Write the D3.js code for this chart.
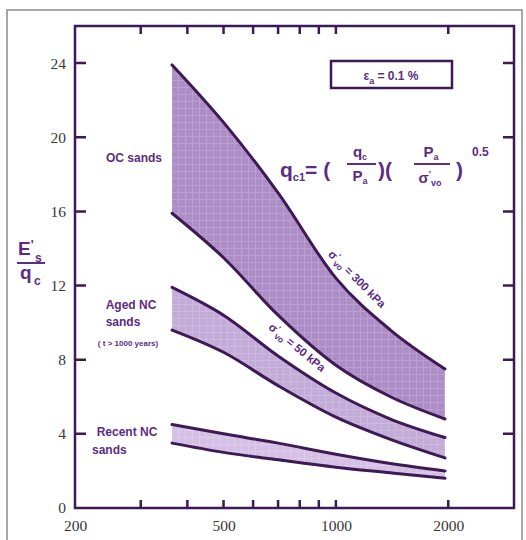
<!DOCTYPE html>
<head>
  <meta charset="utf-8">
  <title>Stiffness ratio vs normalised cone resistance</title>
  <style>
    body { margin: 0; background: #fff; }
    .tick text { font-family: "Liberation Serif", serif; font-size: 15.5px; fill: #383838; }
    .axis .domain { display: none; }
    .lbl { font-family: "Liberation Sans", Arial, sans-serif; font-weight: bold; fill: #5b2c86; }
  </style>
</head>
<body>
  <svg id="chart" width="526" height="540"></svg>

  <script src="https://d3js.org/d3.v7.min.js"></script>
  <script>

    /******* Data *******/

    // normalised cone resistance q_c1 where the curves are read
    var qc1 = [364, 500, 700, 1000, 1400, 1960];

    // E's/qc bounds for each sand group
    var ocUpper = [23.9, 20.8, 17.0, 12.4, 9.6, 7.5];      // sigma'vo = 300 kPa
    var ocLower = [15.9, 13.5, 10.4, 7.7, 6.0, 4.8];
    var agedUpper = [11.9, 10.4, 8.2, 6.2, 4.8, 3.8];
    var agedLower = [9.6, 8.4, 6.6, 4.9, 3.7, 2.7];       // sigma'vo = 50 kPa
    var recentUpper = [4.5, 4.0, 3.5, 2.9, 2.4, 2.0];
    var recentLower = [3.5, 3.0, 2.6, 2.2, 1.9, 1.6];

    var xTickLabels = [200, 500, 1000, 2000];
    var xMinorTicks = [300, 400, 500, 600, 700, 800, 900, 1000, 2000];
    var yTicks = [0, 4, 8, 12, 16, 20, 24];

    /******* Setup *******/

    var svg = d3.select("#chart");
    var plotL = 75, plotR = 514, plotT = 26, plotB = 508;
    var ink = "#3d1a55";

    var x = d3.scaleLog().domain([200, 3000]).range([plotL, plotR]);
    var y = d3.scaleLinear().domain([0, 26]).range([plotB, plotT]);

    // outer picture border
    svg.append("rect")
      .attr("x", 7).attr("y", 10)
      .attr("width", 515).attr("height", 545)
      .attr("fill", "none")
      .attr("stroke", "#8a8a8a")
      .attr("stroke-width", 1.5);

    // textured fills
    var defs = svg.append("defs");
    function makePattern(id, base, grid) {
      var p = defs.append("pattern")
        .attr("id", id)
        .attr("patternUnits", "userSpaceOnUse")
        .attr("width", 7).attr("height", 7);
      p.append("rect").attr("width", 7).attr("height", 7).attr("fill", base);
      p.append("path")
        .attr("d", "M0,3.5H7M3.5,0V7")
        .attr("stroke", grid)
        .attr("stroke-width", 1)
        .attr("opacity", 0.55);
    }
    makePattern("texOC", "#ad8dc5", "#c6aed9");
    makePattern("texAged", "#c4acd8", "#d6c4e4");
    makePattern("texRecent", "#d4c0e4", "#e2d4ec");

    function pairs(vals) {
      return vals.map(function(v, i) { return [qc1[i], v]; });
    }

    var curve = d3.curveMonotoneX;

    var band = d3.area()
      .x(function(d) { return x(d.x); })
      .y0(function(d) { return y(d.lo); })
      .y1(function(d) { return y(d.hi); })
      .curve(curve);

    var line = d3.line()
      .x(function(d) { return x(d[0]); })
      .y(function(d) { return y(d[1]); })
      .curve(curve);

    var bands = [
      {hi: ocUpper, lo: ocLower, fill: "url(#texOC)"},
      {hi: agedUpper, lo: agedLower, fill: "url(#texAged)"},
      {hi: recentUpper, lo: recentLower, fill: "url(#texRecent)"}
    ];

    /******* Chart Construction *******/

    bands.forEach(function(b) {
      var rows = qc1.map(function(q, i) { return {x: q, hi: b.hi[i], lo: b.lo[i]}; });
      svg.append("path")
        .attr("d", band(rows))
        .attr("fill", b.fill);
      [b.hi, b.lo].forEach(function(vals) {
        svg.append("path")
          .attr("d", line(pairs(vals)))
          .attr("fill", "none")
          .attr("stroke", ink)
          .attr("stroke-width", 3)
          .attr("stroke-linecap", "round");
      });
    });

    // plot frame
    svg.append("rect")
      .attr("x", plotL).attr("y", plotT)
      .attr("width", plotR - plotL).attr("height", plotB - plotT)
      .attr("fill", "none")
      .attr("stroke", ink)
      .attr("stroke-width", 2.5);

    // inward tick marks on all four sides, built as one path
    var tickPath = d3.path();
    yTicks.slice(1).forEach(function(v) {
      tickPath.moveTo(plotL, y(v)); tickPath.lineTo(plotL + 11, y(v));
      tickPath.moveTo(plotR, y(v)); tickPath.lineTo(plotR - 11, y(v));
    });
    xMinorTicks.forEach(function(v) {
      tickPath.moveTo(x(v), plotB); tickPath.lineTo(x(v), plotB - 8);
      tickPath.moveTo(x(v), plotT); tickPath.lineTo(x(v), plotT + 8);
    });
    svg.append("path")
      .attr("d", tickPath.toString())
      .attr("fill", "none")
      .attr("stroke", ink)
      .attr("stroke-width", 2.5);

    // tick labels
    svg.append("g")
      .attr("class", "axis")
      .attr("transform", "translate(" + plotL + ",0)")
      .call(d3.axisLeft(y).tickValues(yTicks).tickSize(0).tickPadding(9).tickFormat(d3.format("d")))
      .selectAll("line").remove();

    svg.append("g")
      .attr("class", "axis")
      .attr("transform", "translate(0," + plotB + ")")
      .call(d3.axisBottom(x).tickValues(xTickLabels).tickSize(0).tickPadding(12).tickFormat(d3.format("d")))
      .selectAll("line").remove();

    /******* Annotations *******/

    // y axis label E's / qc
    var yl = svg.append("g").attr("class", "lbl");
    yl.append("text").attr("x", 18).attr("y", 255).attr("font-size", 19)
      .text("E").append("tspan").attr("dy", -6).attr("font-size", 12).text("'");
    yl.append("text").attr("x", 35).attr("y", 262).attr("font-size", 12).text("s");
    yl.append("line").attr("x1", 17).attr("x2", 45).attr("y1", 263).attr("y2", 263)
      .attr("stroke", "#5b2c86").attr("stroke-width", 2);
    yl.append("text").attr("x", 20).attr("y", 279).attr("font-size", 19).text("q");
    yl.append("text").attr("x", 34).attr("y", 285).attr("font-size", 12).text("c");

    // region labels
    svg.append("text").attr("class", "lbl").attr("x", 134).attr("y", 162)
      .attr("text-anchor", "middle").attr("font-size", 12).text("OC sands");
    svg.append("text").attr("class", "lbl").attr("x", 131).attr("y", 309)
      .attr("text-anchor", "middle").attr("font-size", 12).text("Aged NC");
    svg.append("text").attr("class", "lbl").attr("x", 123).attr("y", 326)
      .attr("text-anchor", "middle").attr("font-size", 12).text("sands");
    svg.append("text").attr("class", "lbl").attr("x", 128).attr("y", 346)
      .attr("text-anchor", "middle").attr("font-size", 8).text("( t > 1000 years)");
    svg.append("text").attr("class", "lbl").attr("x", 127).attr("y", 436)
      .attr("text-anchor", "middle").attr("font-size", 12).text("Recent NC");
    svg.append("text").attr("class", "lbl").attr("x", 92).attr("y", 454)
      .attr("font-size", 12).text("sands");

    // stress labels along the curves
    function stressLabel(qx, qy, angle, kpa) {
      var t = svg.append("text").attr("class", "lbl")
        .attr("font-size", 11.5)
        .attr("text-anchor", "middle")
        .attr("transform", "translate(" + x(qx) + "," + y(qy) + ") rotate(" + angle + ")");
      t.append("tspan").text("\u03c3");
      t.append("tspan").attr("dy", -4).attr("font-size", 8.5).text("'");
      t.append("tspan").attr("dy", 7).attr("font-size", 8.5).text("vo");
      t.append("tspan").attr("dy", -3).text(" = " + kpa + " kPa");
    }
    stressLabel(1120, 12.2, 45, 300);
    stressLabel(775, 8.5, 39, 50);

    // strain box
    svg.append("rect")
      .attr("x", 331).attr("y", 61).attr("width", 121).attr("height", 27)
      .attr("fill", "#fff").attr("stroke", ink).attr("stroke-width", 2.5);
    var eb = svg.append("text").attr("class", "lbl").attr("x", 391).attr("y", 80)
      .attr("text-anchor", "middle").attr("font-size", 12);
    eb.append("tspan").text("\u03b5");
    eb.append("tspan").attr("dy", 4).attr("font-size", 9).text("a");
    eb.append("tspan").attr("dy", -4).text(" = 0.1 %");

    // normalisation formula
    var f = svg.append("g").attr("class", "lbl");
    var q1 = f.append("text").attr("x", 280).attr("y", 177).attr("font-size", 21);
    q1.append("tspan").text("q");
    q1.append("tspan").attr("dy", 4).attr("font-size", 11).text("c1");
    q1.append("tspan").attr("dy", -4).text("= (");
    f.append("text").attr("x", 360).attr("y", 157).attr("font-size", 15).attr("text-anchor", "middle")
      .text("q").append("tspan").attr("dy", 3).attr("font-size", 9).text("c");
    f.append("line").attr("x1", 347).attr("x2", 376).attr("y1", 164).attr("y2", 164)
      .attr("stroke", "#5b2c86").attr("stroke-width", 2);
    f.append("text").attr("x", 360).attr("y", 181).attr("font-size", 15).attr("text-anchor", "middle")
      .text("P").append("tspan").attr("dy", 3).attr("font-size", 9).text("a");
    f.append("text").attr("x", 378).attr("y", 177).attr("font-size", 21).text(")(");
    f.append("text").attr("x", 431).attr("y", 157).attr("font-size", 15).attr("text-anchor", "middle")
      .text("P").append("tspan").attr("dy", 3).attr("font-size", 9).text("a");
    f.append("line").attr("x1", 414).attr("x2", 450).attr("y1", 164).attr("y2", 164)
      .attr("stroke", "#5b2c86").attr("stroke-width", 2);
    var sg = f.append("text").attr("x", 430).attr("y", 183).attr("font-size", 15).attr("text-anchor", "middle");
    sg.append("tspan").text("\u03c3");
    sg.append("tspan").attr("dy", -6).attr("font-size", 9).text("'");
    sg.append("tspan").attr("dy", 9).attr("font-size", 9).text("vo");
    f.append("text").attr("x", 456).attr("y", 177).attr("font-size", 21).text(")");
    f.append("text").attr("x", 472).attr("y", 156).attr("font-size", 12).text("0.5");

  </script>
</body>
